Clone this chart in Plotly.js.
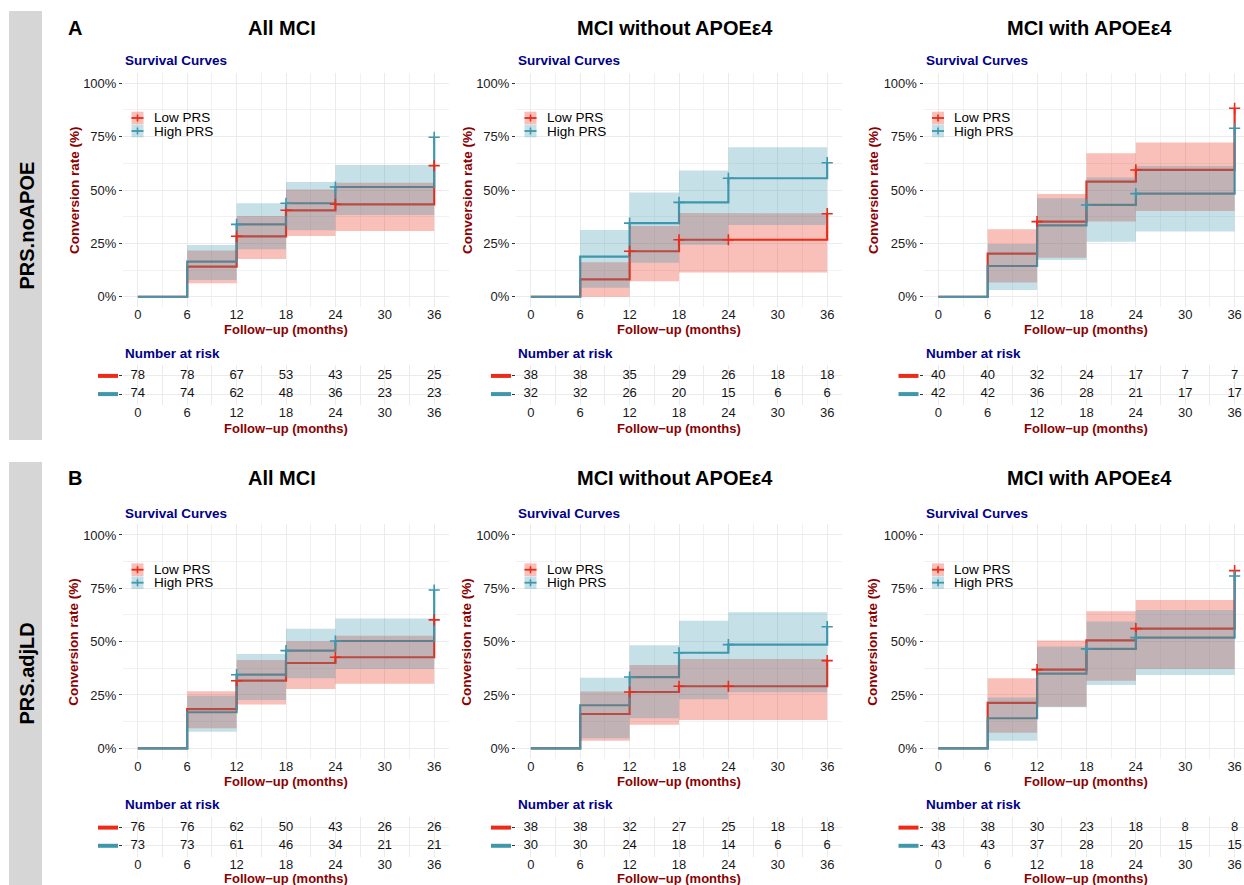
<!DOCTYPE html>
<html><head><meta charset="utf-8">
<script src="https://cdn.plot.ly/plotly-3.0.1.min.js"></script>
<style>html,body{margin:0;padding:0;background:#fff}#chart{width:1244px;height:885px}</style>
</head><body><div id="chart"></div><script>
// ---------- shared axes data ----------
const times = [0, 6, 12, 18, 24, 36];          // step times of the curves
const ciBounds = [6, 12, 18, 24, 36];          // confidence band interval limits
const riskTimes = [0, 6, 12, 18, 24, 30, 36];  // risk table columns
const yTickVals = [0, 25, 50, 75, 100];
const yTickText = ['0%', '25%', '50%', '75%', '100%'];
const groupNames = ['Low PRS', 'High PRS'];
const colTitles = ['All MCI', 'MCI without APOE\u03b54', 'MCI with APOE\u03b54'];
const rowLetters = ['A', 'B'];
const rowStrips = ['PRS.noAPOE', 'PRS.adjLD'];

// ---------- A1: PRS.noAPOE, All MCI ----------
const a1LowCurve  = [0, 14.1, 28.3, 40.5, 43.3, 61.4];
const a1HighCurve = [0, 16.4, 33.9, 43.8, 51.4, 74.7];
const a1LowLower  = [6.3, 17.7, 28.4, 30.8];
const a1LowUpper  = [21.6, 37.8, 50.2, 53.4];
const a1HighLower = [7.8, 22.3, 31.1, 38.3];
const a1HighUpper = [24.2, 43.8, 53.8, 61.7];
const a1LowCensor = [12, 18, 24, 36];
const a1HighCensor = [12, 18, 24, 36];
const a1LowRisk  = [78, 78, 67, 53, 43, 25, 25];
const a1HighRisk = [74, 74, 62, 48, 36, 23, 23];

// ---------- A2: PRS.noAPOE, MCI without APOEe4 ----------
const a2LowCurve  = [0, 8.1, 21.3, 26.7, 26.7, 38.9];
const a2HighCurve = [0, 18.8, 34.5, 44.2, 55.5, 62.8];
const a2LowLower  = [0, 7.3, 11.4, 11.4];
const a2LowUpper  = [16.1, 33.1, 39.2, 39.1];
const a2HighLower = [4.2, 15.9, 24.4, 33.6];
const a2HighUpper = [31.3, 48.8, 59.1, 70.0];
const a2LowCensor = [12, 18, 24, 36];
const a2HighCensor = [12, 18, 24, 36];
const a2LowRisk  = [38, 38, 35, 29, 26, 18, 18];
const a2HighRisk = [32, 32, 26, 20, 15, 6, 6];

// ---------- A3: PRS.noAPOE, MCI with APOEe4 ----------
const a3LowCurve  = [0, 20.2, 35.2, 53.9, 59.4, 88.3];
const a3HighCurve = [0, 14.4, 33.4, 43.0, 48.3, 78.9];
const a3LowLower  = [6.7, 18.3, 35.2, 40.2];
const a3LowUpper  = [31.6, 48.1, 67.2, 72.2];
const a3HighLower = [3.1, 17.2, 25.8, 30.5];
const a3HighUpper = [24.7, 46.1, 55.9, 61.3];
const a3LowCensor = [12, 24, 36];
const a3HighCensor = [18, 24, 36];
const a3LowRisk  = [40, 40, 32, 24, 17, 7, 7];
const a3HighRisk = [42, 42, 36, 28, 21, 17, 17];

// ---------- B1: PRS.adjLD, All MCI ----------
const b1LowCurve  = [0, 18.4, 31.7, 40.0, 42.7, 60.2];
const b1HighCurve = [0, 16.9, 34.5, 45.8, 50.3, 74.2];
const b1LowLower  = [9.4, 20.5, 27.8, 30.3];
const b1LowUpper  = [26.7, 41.4, 50.2, 52.8];
const b1HighLower = [7.8, 22.7, 32.8, 37.2];
const b1HighUpper = [24.7, 44.2, 56.1, 60.9];
const b1LowCensor = [12, 24, 36];
const b1HighCensor = [12, 18, 24, 36];
const b1LowRisk  = [76, 76, 62, 50, 43, 26, 26];
const b1HighRisk = [73, 73, 61, 46, 34, 21, 21];

// ---------- B2: PRS.adjLD, MCI without APOEe4 ----------
const b2LowCurve  = [0, 16.1, 26.4, 29.1, 29.1, 41.1];
const b2HighCurve = [0, 20.2, 33.4, 44.8, 48.6, 57.0];
const b2LowLower  = [3.6, 11.1, 13.3, 13.3];
const b2LowUpper  = [26.6, 39.1, 41.9, 41.9];
const b2HighLower = [4.7, 14.1, 23.0, 26.3];
const b2HighUpper = [33.1, 48.3, 59.8, 63.8];
const b2LowCensor = [12, 18, 24, 36];
const b2HighCensor = [12, 18, 24, 36];
const b2LowRisk  = [38, 38, 32, 27, 25, 18, 18];
const b2HighRisk = [30, 30, 24, 18, 14, 6, 6];

// ---------- B3: PRS.adjLD, MCI with APOEe4 ----------
const b3LowCurve  = [0, 21.3, 36.9, 50.6, 56.1, 83.3];
const b3HighCurve = [0, 14.1, 35.0, 46.6, 51.9, 80.8];
const b3LowLower  = [7.3, 19.5, 31.7, 37.2];
const b3LowUpper  = [32.8, 50.5, 64.2, 69.5];
const b3HighLower = [3.6, 19.2, 29.7, 34.4];
const b3HighUpper = [23.8, 47.7, 59.4, 64.8];
const b3LowCensor = [12, 24, 36];
const b3HighCensor = [18, 24, 36];
const b3LowRisk  = [38, 38, 30, 23, 18, 8, 8];
const b3HighRisk = [43, 43, 37, 28, 20, 15, 15];

// ---------- styling / geometry ----------
const FONT = 'Liberation Sans, Arial, Helvetica, sans-serif';
const RED = '#EC2A18', TEAL = '#3E97AD';
const RED_FILL = 'rgba(236,42,24,0.3)', TEAL_FILL = 'rgba(62,151,173,0.3)';
const NAVY = '#00008B', DARKRED = '#8B0000', GRID = '#EBEBEB';
const W = 1244, H = 885;
const X = p => p / W, Y = p => 1 - p / H;

const colGeom = [
  {l: 123, r: 449, range: [-1.8, 37.8], ytitle: 74, title: 282, xmid: 286},
  {l: 516, r: 842, range: [-1.8, 37.8], ytitle: 467, title: 675, xmid: 679},
  {l: 923.5, r: 1244, range: [-1.8, 37.14], ytitle: 873, title: 1089, xmid: 1086}
];
const rowGeom = [
  {pt: 72.6, pb: 307.4, tt: 365, tb: 405, title: 28, surv: 61, risk: 353, xt: 329.5, txt: 428.5, yt: 190, st: 11, sb: 440},
  {pt: 524.3, pb: 759, tt: 816.7, tb: 856.7, title: 478, surv: 513, risk: 804, xt: 781, txt: 878.5, yt: 641.7, st: 462, sb: 885}
];

const panels = [
  {row: 0, col: 0, groups: [
    {curve: a1LowCurve, lower: a1LowLower, upper: a1LowUpper, censor: a1LowCensor, risk: a1LowRisk},
    {curve: a1HighCurve, lower: a1HighLower, upper: a1HighUpper, censor: a1HighCensor, risk: a1HighRisk}]},
  {row: 0, col: 1, groups: [
    {curve: a2LowCurve, lower: a2LowLower, upper: a2LowUpper, censor: a2LowCensor, risk: a2LowRisk},
    {curve: a2HighCurve, lower: a2HighLower, upper: a2HighUpper, censor: a2HighCensor, risk: a2HighRisk}]},
  {row: 0, col: 2, groups: [
    {curve: a3LowCurve, lower: a3LowLower, upper: a3LowUpper, censor: a3LowCensor, risk: a3LowRisk},
    {curve: a3HighCurve, lower: a3HighLower, upper: a3HighUpper, censor: a3HighCensor, risk: a3HighRisk}]},
  {row: 1, col: 0, groups: [
    {curve: b1LowCurve, lower: b1LowLower, upper: b1LowUpper, censor: b1LowCensor, risk: b1LowRisk},
    {curve: b1HighCurve, lower: b1HighLower, upper: b1HighUpper, censor: b1HighCensor, risk: b1HighRisk}]},
  {row: 1, col: 1, groups: [
    {curve: b2LowCurve, lower: b2LowLower, upper: b2LowUpper, censor: b2LowCensor, risk: b2LowRisk},
    {curve: b2HighCurve, lower: b2HighLower, upper: b2HighUpper, censor: b2HighCensor, risk: b2HighRisk}]},
  {row: 1, col: 2, groups: [
    {curve: b3LowCurve, lower: b3LowLower, upper: b3LowUpper, censor: b3LowCensor, risk: b3LowRisk},
    {curve: b3HighCurve, lower: b3HighLower, upper: b3HighUpper, censor: b3HighCensor, risk: b3HighRisk}]}
];
const lineCols = [RED, TEAL], fillCols = [RED_FILL, TEAL_FILL];

function stepAt(curve, t) {
  let v = 0;
  for (let i = 0; i < times.length; i++) if (times[i] <= t) v = curve[i];
  return v;
}
function bandPath(bounds, lower, upper) {
  const xs = [], ys = [];
  for (let i = 0; i < upper.length; i++) { xs.push(bounds[i], bounds[i + 1]); ys.push(upper[i], upper[i]); }
  for (let i = lower.length - 1; i >= 0; i--) { xs.push(bounds[i + 1], bounds[i]); ys.push(lower[i], lower[i]); }
  return {xs, ys};
}
const axId = n => (n === 1 ? '' : String(n));

const traces = [];
const layout = {
  width: W, height: H, autosize: false,
  margin: {l: 0, r: 0, t: 0, b: 0, pad: 0},
  paper_bgcolor: '#fff', plot_bgcolor: '#fff',
  showlegend: false,
  font: {family: FONT, color: '#222', size: 13},
  annotations: [], shapes: []
};
const ann = (text, x, y, opts) => layout.annotations.push(Object.assign({
  text, x: X(x), y: Y(y), xref: 'paper', yref: 'paper', showarrow: false,
  xanchor: 'center', yanchor: 'middle', font: {family: FONT, size: 13, color: '#000'}
}, opts || {}));

panels.forEach((p, k) => {
  const cg = colGeom[p.col], rg = rowGeom[p.row];
  const sN = 2 * k + 1, tN = 2 * k + 2;
  const sx = 'x' + axId(sN), sy = 'y' + axId(sN), tx = 'x' + axId(tN), ty = 'y' + axId(tN);

  // survival curve axes
  layout['xaxis' + axId(sN)] = {
    domain: [X(cg.l), X(cg.r)], range: cg.range, anchor: sy,
    tickmode: 'linear', tick0: 0, dtick: 6, ticks: '', ticklabelstandoff: -2,
    tickfont: {size: 13, color: '#1a1a1a'}, showgrid: true, gridcolor: GRID, gridwidth: 1,
    minor: {dtick: 3, tick0: 0, showgrid: true, gridcolor: GRID, gridwidth: 0.7},
    zeroline: false, showline: false, fixedrange: true
  };
  layout['yaxis' + axId(sN)] = {
    domain: [Y(rg.pb), Y(rg.pt)], range: [-5, 105], anchor: sx,
    tickmode: 'array', tickvals: yTickVals, ticktext: yTickText, ticks: 'outside', ticklen: 3, tickcolor: '#333',
    tickfont: {size: 13, color: '#1a1a1a'}, showgrid: true, gridcolor: GRID, gridwidth: 1,
    minor: {dtick: 12.5, tick0: 0, showgrid: true, gridcolor: GRID, gridwidth: 0.7},
    zeroline: false, showline: false, fixedrange: true
  };
  // risk table axes
  layout['xaxis' + axId(tN)] = {
    domain: [X(cg.l), X(cg.r)], range: cg.range, anchor: ty,
    tickmode: 'array', tickvals: riskTimes, ticktext: riskTimes.map(String), ticks: '',
    ticklabelstandoff: -2,
    tickfont: {size: 13, color: '#1a1a1a'}, showgrid: false,
    minor: {dtick: 3, tick0: 0, showgrid: true, gridcolor: GRID, gridwidth: 1},
    zeroline: false, showline: false, fixedrange: true
  };
  layout['yaxis' + axId(tN)] = {
    domain: [Y(rg.tb), Y(rg.tt)], range: [0.4, 2.6], anchor: tx,
    tickmode: 'array', tickvals: [1, 2], ticktext: ['', ''], ticks: 'outside', ticklen: 3, tickcolor: '#333',
    showticklabels: false, showgrid: true, gridcolor: GRID, gridwidth: 1,
    zeroline: false, showline: false, fixedrange: true
  };

  // step curves (drawn first; bands cover them like the original)
  p.groups.forEach((g, gi) => {
    traces.push({x: times, y: g.curve, xaxis: sx, yaxis: sy, mode: 'lines',
      line: {shape: 'hv', color: lineCols[gi], width: 2.2}, hoverinfo: 'skip', name: groupNames[gi]});
  });
  // confidence bands
  p.groups.forEach((g, gi) => {
    const b = bandPath(ciBounds, g.lower, g.upper);
    traces.push({x: b.xs, y: b.ys, xaxis: sx, yaxis: sy, mode: 'lines', fill: 'toself',
      fillcolor: fillCols[gi], line: {width: 0, color: fillCols[gi]}, hoverinfo: 'skip', name: groupNames[gi] + ' CI'});
  });
  // censor marks
  p.groups.forEach((g, gi) => {
    traces.push({x: g.censor, y: g.censor.map(t => stepAt(g.curve, t)), xaxis: sx, yaxis: sy, mode: 'markers',
      marker: {symbol: 'cross-thin-open', size: 8, color: lineCols[gi], line: {color: lineCols[gi], width: 1.6}},
      hoverinfo: 'skip', name: groupNames[gi] + ' censored'});
  });
  // risk table numbers
  p.groups.forEach((g, gi) => {
    traces.push({x: riskTimes, y: riskTimes.map(() => 2 - gi), text: g.risk.map(String), xaxis: tx, yaxis: ty,
      mode: 'text', textposition: 'middle center', textfont: {family: FONT, size: 13, color: '#111'},
      hoverinfo: 'skip', name: groupNames[gi] + ' at risk'});
    // colored row key of the risk table
    const rowY = rg.tt + (2.6 - (2 - gi)) / 2.2 * (rg.tb - rg.tt);
    layout.shapes.push({type: 'line', xref: 'paper', yref: 'paper', x0: X(cg.l - 25), x1: X(cg.l - 5),
      y0: Y(rowY), y1: Y(rowY), line: {color: lineCols[gi], width: 4}});
  });

  // in-panel legend
  groupNames.forEach((nm, gi) => {
    const cy = rg.pt + 45.4 + gi * 13;
    const bx0 = cg.l + 8.5, bx1 = cg.l + 20.5;
    layout.shapes.push({type: 'rect', xref: 'paper', yref: 'paper', x0: X(bx0), x1: X(bx1),
      y0: Y(cy - 6.3), y1: Y(cy + 6.3), fillcolor: fillCols[gi], line: {width: 0}});
    layout.shapes.push({type: 'line', xref: 'paper', yref: 'paper', x0: X(bx0), x1: X(bx1),
      y0: Y(cy), y1: Y(cy), line: {color: lineCols[gi], width: 1.8}});
    layout.shapes.push({type: 'line', xref: 'paper', yref: 'paper', x0: X((bx0 + bx1) / 2), x1: X((bx0 + bx1) / 2),
      y0: Y(cy - 3.5), y1: Y(cy + 3.5), line: {color: lineCols[gi], width: 1.6}});
    ann(nm, cg.l + 28.5, cy, {xanchor: 'left', font: {family: FONT, size: 13.5, color: '#000'}});
  });

  // texts
  ann('<b>' + colTitles[p.col] + '</b>', cg.title, rg.title, {font: {family: FONT, size: 20, color: '#000'}});
  ann('<b>Survival Curves</b>', cg.l, rg.surv, {xanchor: 'left', font: {family: FONT, size: 13.5, color: NAVY}});
  ann('<b>Number at risk</b>', cg.l, rg.risk, {xanchor: 'left', font: {family: FONT, size: 13.5, color: NAVY}});
  ann('<b>Conversion rate (%)</b>', cg.ytitle, rg.yt, {textangle: -90, font: {family: FONT, size: 13.5, color: DARKRED}});
  ann('<b>Follow\u2212up (months)</b>', cg.xmid, rg.xt, {borderpad: 0, font: {family: FONT, size: 13, color: DARKRED}});
  ann('<b>Follow\u2212up (months)</b>', cg.xmid, rg.txt, {borderpad: 0, font: {family: FONT, size: 13, color: DARKRED}});
});

// row strips and letters
rowGeom.forEach((rg, r) => {
  layout.shapes.push({type: 'rect', xref: 'paper', yref: 'paper', x0: X(9), x1: X(42),
    y0: Y(rg.sb), y1: Y(rg.st), fillcolor: '#D6D6D6', line: {width: 0}, layer: 'below'});
  ann('<b>' + rowStrips[r] + '</b>', 26, (rg.st + rg.sb) / 2, {textangle: -90, font: {family: FONT, size: 20, color: '#000'}});
  ann('<b>' + rowLetters[r] + '</b>', 66, rg.title, {xanchor: 'left', font: {family: FONT, size: 20, color: '#000'}});
});

Plotly.newPlot('chart', traces, layout, {staticPlot: true, displayModeBar: false});
</script></body></html>
